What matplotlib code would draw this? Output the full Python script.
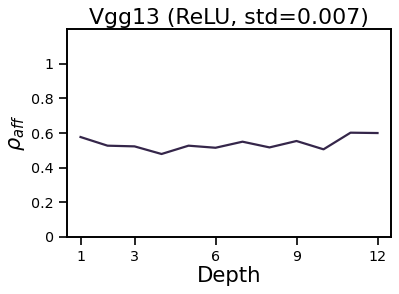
import numpy as np
import matplotlib
matplotlib.use('Agg')
import matplotlib.pyplot as plt

# data
depth = np.arange(1, 13)
rho_aff = [0.577, 0.527, 0.523, 0.479, 0.527, 0.515, 0.550, 0.517, 0.554, 0.506, 0.602, 0.600]
x_ticks = [1, 3, 6, 9, 12]
y_ticks = [0, 0.2, 0.4, 0.6, 0.8, 1]
y_ticklabels = ['0', '0.2', '0.4', '0.6', '0.8', '1']

fig = plt.figure(figsize=(3.99, 2.94), dpi=100)
ax = fig.add_axes([0.168, 0.194, 0.812, 0.707])

ax.plot(depth, rho_aff, color='#35264a', linewidth=1.6)

ax.set_xlim(0.5, 12.5)
ax.set_ylim(0, 1.2)
ax.set_xticks(x_ticks)
ax.set_yticks(y_ticks)
ax.set_yticklabels(y_ticklabels)
ax.tick_params(axis='both', labelsize=10.3, length=6, width=1.2, direction='out')
for s in ax.spines.values():
    s.set_linewidth(1.4)

ax.set_xlabel('Depth', fontsize=15.3, labelpad=1)
ax.set_ylabel(r'$\rho_{aff}$', fontsize=15, labelpad=3)
ax.set_title('Vgg13 (ReLU, std=0.007)', fontsize=15.8, pad=4)

plt.savefig('out.png', dpi=100)
